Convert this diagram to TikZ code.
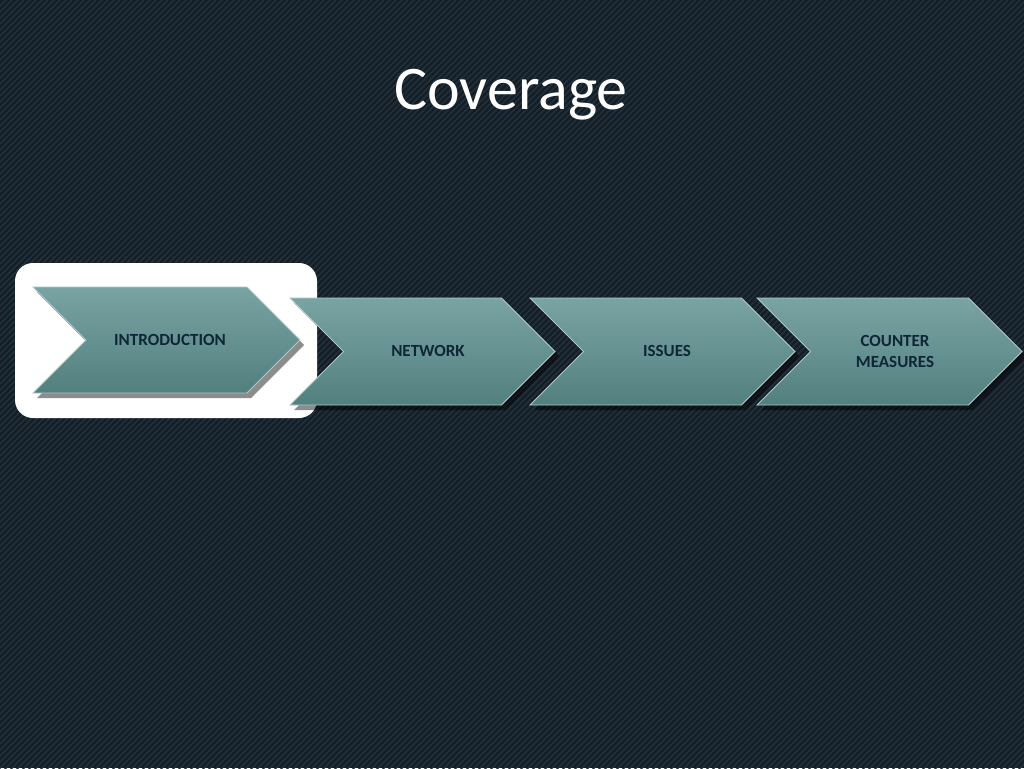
\documentclass[tikz,border=0pt]{standalone}
\usepackage{fontspec}
\setmainfont{Carlito}
\definecolor{bg}{HTML}{141E26}
\definecolor{stripe}{HTML}{22303A}
\definecolor{ctop}{HTML}{7AA3A3}
\definecolor{cbot}{HTML}{52807F}
\definecolor{ctext}{HTML}{0E2636}
\tikzset{
  chev/.style={top color=ctop, bottom color=cbot, draw=ctop!60!white, line width=0.8pt},
  chevshadow/.style={fill=black, opacity=0.45},
  lbl/.style={font=\bfseries\fontsize{17}{21}\selectfont, text=ctext, align=center},
}
\newcommand{\chevron}[5]{% x0 y0 width height name
  \fill[chevshadow] (#1+4,#2+5) -- (#1+#3-#4/2+4,#2+5) -- (#1+#3+4,#2+#4/2+5) -- (#1+#3-#4/2+4,#2+#4+5) -- (#1+4,#2+#4+5) -- (#1+#4/2+4,#2+#4/2+5) -- cycle;
  \path[chev] (#1,#2) -- (#1+#3-#4/2,#2) -- (#1+#3,#2+#4/2) -- (#1+#3-#4/2,#2+#4) -- (#1,#2+#4) -- (#1+#4/2,#2+#4/2) -- cycle;
}
\begin{document}
\begin{tikzpicture}[x=1pt,y=-1pt]
\useasboundingbox (0,0) rectangle (1024,768);
\fill[bg] (0,0) rectangle (1024,768);
\begin{scope}
\clip (0,0) rectangle (1024,768);
\foreach \i in {0,6,...,1800} \draw[stripe, line width=1.6pt] (\i,0) -- (\i-800,800);
\end{scope}
\node[text=white, font=\fontsize{62}{70}\selectfont] (title) at (511,95) {Coverage};
\fill[white, rounded corners=18pt] (15,263) rectangle (317,418);
\chevron{33}{287}{267}{106}{a}
\chevron{290}{298}{265}{107}{b}
\chevron{530}{298}{265}{107}{c}
\chevron{757}{298}{265}{107}{d}
\node[lbl] (n1) at (170,340) {INTRODUCTION};
\node[lbl] (n2) at (428,351) {NETWORK};
\node[lbl] (n3) at (667,351) {ISSUES};
\node[lbl] (n4) at (895,351) {COUNTER\\MEASURES};
\end{tikzpicture}
\end{document}
